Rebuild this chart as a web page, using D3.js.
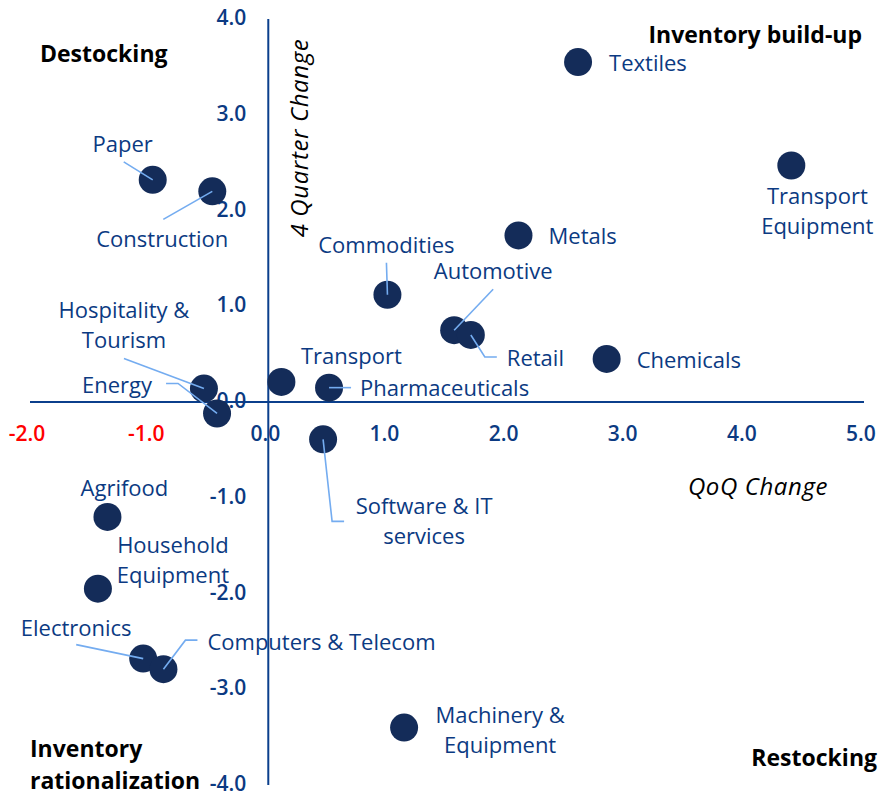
<!DOCTYPE html>
<html>
<head>
<meta charset="utf-8">
<script src="https://cdn.jsdelivr.net/npm/d3@7"></script>
<style>
  body { margin: 0; background: #fff; }
  svg { display: block; font-family: "Open Sans", sans-serif; }
  .sector-label { fill: #0b3a82; font-size: 22px; font-weight: 500; }
  .tick-label { font-size: 21px; font-weight: 600; }
  .quadrant { fill: #000; font-size: 23px; font-weight: 700; }
  .axis-title { fill: #000; font-size: 24px; font-style: italic; letter-spacing: 0.6px; }
</style>
</head>
<body>
<div id="chart"></div>
<script>
// data
const sectors = [
  "Textiles", "Transport Equipment", "Metals", "Paper", "Construction",
  "Commodities", "Automotive", "Retail", "Chemicals", "Transport",
  "Pharmaceuticals", "Hospitality & Tourism", "Energy", "Software & IT services",
  "Agrifood", "Household Equipment", "Electronics", "Computers & Telecom",
  "Machinery & Equipment"
];
const qoqChange = [
  2.60, 4.39, 2.10, -0.97, -0.47,
  1.00, 1.56, 1.70, 2.84, 0.11,
  0.51, -0.54, -0.43, 0.46,
  -1.35, -1.43, -1.05, -0.88,
  1.14
];
const fourQuarterChange = [
  3.55, 2.47, 1.74, 2.32, 2.20,
  1.12, 0.75, 0.70, 0.45, 0.21,
  0.15, 0.14, -0.12, -0.39,
  -1.20, -1.95, -2.68, -2.79,
  -3.40
];
const xTicks = [-2, -1, 0, 1, 2, 3, 4, 5];
const yTicks = [-4, -3, -2, -1, 0, 1, 2, 3, 4];

// label placement (pixel offsets from the dot)
const labelLayout = {
  "Textiles": { dx: 31, dy: 0, anchor: "start", lines: ["Textiles"] },
  "Transport Equipment": { dx: 26, dy: 30, anchor: "middle", lines: ["Transport", "Equipment"] },
  "Metals": { dx: 30, dy: 0, anchor: "start", lines: ["Metals"] },
  "Paper": { dx: -30, dy: -37, anchor: "middle", lines: ["Paper"], leader: [[-29, -18], [0, 0]] },
  "Construction": { dx: -50, dy: 47, anchor: "middle", lines: ["Construction"], leader: [[-49, 28], [0, 0]] },
  "Commodities": { dx: -1, dy: -51, anchor: "middle", lines: ["Commodities"], leader: [[-1, -32], [0, 0]] },
  "Automotive": { dx: 39, dy: -60, anchor: "middle", lines: ["Automotive"], leader: [[39, -41], [0, 0]] },
  "Retail": { dx: 36, dy: 22, anchor: "start", lines: ["Retail"], leader: [[26, 22], [14, 22], [0, 0]] },
  "Chemicals": { dx: 30, dy: 0, anchor: "start", lines: ["Chemicals"] },
  "Transport": { dx: 70, dy: -27, anchor: "middle", lines: ["Transport"] },
  "Pharmaceuticals": { dx: 31, dy: -1, anchor: "start", lines: ["Pharmaceuticals"], leader: [[22, 0], [0, 0]] },
  "Hospitality & Tourism": { dx: -80, dy: -80, anchor: "middle", lines: ["Hospitality &", "Tourism"], leader: [[-80, -30], [0, 0]] },
  "Energy": { dx: -100, dy: -29, anchor: "middle", lines: ["Energy"], leader: [[-51, -30], [-39, -30], [0, 0]] },
  "Software & IT services": { dx: 101, dy: 66, anchor: "middle", lines: ["Software & IT", "services"], leader: [[0, 0], [9, 82], [21, 82]] },
  "Agrifood": { dx: 17, dy: -30, anchor: "middle", lines: ["Agrifood"] },
  "Household Equipment": { dx: 75, dy: -45, anchor: "middle", lines: ["Household", "Equipment"] },
  "Electronics": { dx: -67, dy: -32, anchor: "middle", lines: ["Electronics"], leader: [[-67, -14], [0, 0]] },
  "Computers & Telecom": { dx: 44, dy: -28, anchor: "start", lines: ["Computers & Telecom"], leader: [[34, -29], [22, -29], [0, 0]] },
  "Machinery & Equipment": { dx: 96, dy: -14, anchor: "middle", lines: ["Machinery &", "Equipment"] }
};

const data = sectors.map((s, i) => ({ name: s, x: qoqChange[i], y: fourQuarterChange[i] }));

////////////////////////////  Init  ///////////////////////////////
const width = 878;
const height = 796;
const lineHeight = 30;

const svg = d3.select("#chart").append("svg")
  .attr("width", width)
  .attr("height", height);

const xScale = d3.scaleLinear().domain([-2, 5]).range([30, 864]);
const yScale = d3.scaleLinear().domain([-4, 4]).range([785, 19]);

const axisColor = "#0b3f8c";
const dotColor = "#142c59";
const leaderColor = "#74acf0";
const fmt = (d) => d.toFixed(1); // plain hyphen, like the original

// axes lines
svg.append("line")
  .attr("x1", xScale(-2)).attr("x2", xScale(5))
  .attr("y1", yScale(0)).attr("y2", yScale(0))
  .attr("stroke", axisColor).attr("stroke-width", 2);

svg.append("line")
  .attr("x1", xScale(0)).attr("x2", xScale(0))
  .attr("y1", yScale(4)).attr("y2", yScale(-4))
  .attr("stroke", axisColor).attr("stroke-width", 2);

// tick labels
svg.selectAll(".x-tick")
  .data(xTicks)
  .enter()
  .append("text")
  .attr("class", "tick-label x-tick")
  .attr("x", (d) => xScale(d) - 3)
  .attr("y", yScale(0) + 31)
  .attr("text-anchor", "middle")
  .attr("dominant-baseline", "central")
  .attr("fill", (d) => (d < 0 ? "#ff0000" : "#0b3a82"))
  .text(fmt);

svg.selectAll(".y-tick")
  .data(yTicks)
  .enter()
  .append("text")
  .attr("class", "tick-label y-tick")
  .attr("x", xScale(0) - 22)
  .attr("y", (d) => yScale(d) - 2)
  .attr("text-anchor", "end")
  .attr("dominant-baseline", "central")
  .attr("fill", "#0b3a82")
  .text(fmt);

// axis titles
svg.append("text")
  .attr("class", "axis-title")
  .attr("transform", `translate(${xScale(0) + 30},138) rotate(-90)`)
  .attr("text-anchor", "middle")
  .attr("dominant-baseline", "central")
  .text("4 Quarter Change");

svg.append("text")
  .attr("class", "axis-title")
  .attr("x", 758)
  .attr("y", 485)
  .attr("text-anchor", "middle")
  .attr("dominant-baseline", "central")
  .text("QoQ Change");

// quadrant labels
const quadrants = [
  { lines: ["Destocking"], x: 40, y: 53, anchor: "start" },
  { lines: ["Inventory build-up"], x: 862, y: 34, anchor: "end" },
  { lines: ["Inventory", "rationalization"], x: 30, y: 748, anchor: "start" },
  { lines: ["Restocking"], x: 877, y: 757, anchor: "end" }
];

quadrants.forEach((q) => {
  const t = svg.append("text")
    .attr("class", "quadrant")
    .attr("text-anchor", q.anchor);
  q.lines.forEach((l, i) => {
    t.append("tspan")
      .attr("x", q.x)
      .attr("y", q.y + i * 32)
      .attr("dominant-baseline", "central")
      .text(l);
  });
});

// dots
svg.selectAll(".dot")
  .data(data)
  .enter()
  .append("circle")
  .attr("class", "dot")
  .attr("cx", (d) => xScale(d.x))
  .attr("cy", (d) => yScale(d.y))
  .attr("r", 14)
  .attr("fill", dotColor);

// leader lines, over the dots (they end at the dot centre)
const line = d3.line();
svg.selectAll(".leader")
  .data(data.filter((d) => labelLayout[d.name].leader))
  .enter()
  .append("path")
  .attr("class", "leader")
  .attr("fill", "none")
  .attr("stroke", leaderColor)
  .attr("stroke-width", 1.6)
  .attr("d", (d) => {
    const px = xScale(d.x), py = yScale(d.y);
    return line(labelLayout[d.name].leader.map((p) => [px + p[0], py + p[1]]));
  });

// sector labels
data.forEach((d) => {
  const lay = labelLayout[d.name];
  const px = xScale(d.x), py = yScale(d.y);
  const t = svg.append("text")
    .attr("class", "sector-label")
    .attr("text-anchor", lay.anchor);
  lay.lines.forEach((l, i) => {
    t.append("tspan")
      .attr("x", px + lay.dx)
      .attr("y", py + lay.dy + i * lineHeight)
      .attr("dominant-baseline", "central")
      .text(l);
  });
});
</script>
</body>
</html>
